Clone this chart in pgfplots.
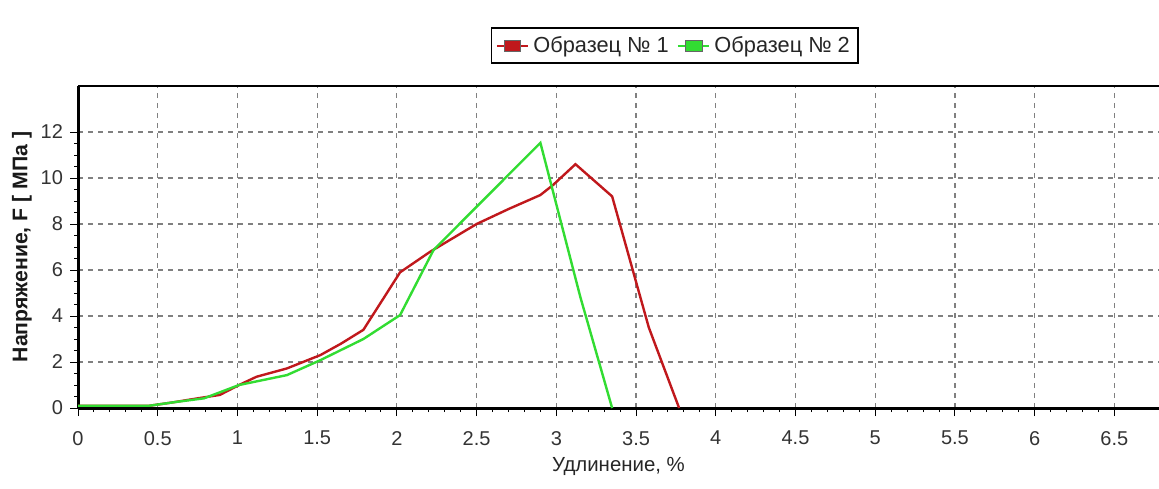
\documentclass[border=0pt]{standalone}
\usepackage{fontspec}
\setmainfont{Liberation Sans}
\usepackage{pgfplots}
\pgfplotsset{compat=1.18}
\definecolor{redser}{RGB}{192,24,28}
\definecolor{greenser}{RGB}{50,220,50}
\definecolor{gridgray}{RGB}{128,128,128}
\begin{document}
\begin{tikzpicture}
\useasboundingbox (0pt,0pt) rectangle (579.5pt,244pt);
\begin{axis}[
  at={(39pt,40pt)}, anchor=south west,
  scale only axis, width=540.5pt, height=161pt,
  xmin=0, xmax=6.78, ymin=0, ymax=14,
  axis x line*=bottom, axis y line*=left,
  axis line style={line width=1.5pt, -},
  xtick={0,0.5,...,6.5},
  xticklabels={0,0.5,1,1.5,2,2.5,3,3.5,4,4.5,5,5.5,6,6.5},
  ytick={0,2,...,12},
  minor x tick num=4, minor y tick num=3,
  tick align=outside,
  major tick length=4pt, minor tick length=2pt,
  tick style={black, line width=0.5pt},
  grid=major,
  major grid style={gridgray, line width=0.6pt, dash pattern=on 2.5pt off 2.5pt},
  /pgf/number format/assume math mode=true,
  ticklabel style={font=\fontsize{10pt}{12pt}\selectfont, text=black!80},
  xticklabel style={yshift=-4pt},
  xlabel={Удлинение, \%},
  ylabel={\textbf{Напряжение, F [ МПа ]}},
  xlabel style={font=\fontsize{10.2pt}{12pt}\selectfont, text=black!85,
    at={(axis description cs:0.5,0)}, anchor=center, yshift=-29pt},
  ylabel style={font=\fontsize{10.6pt}{12pt}\selectfont, text=black!90,
    at={(axis description cs:0,0.5)}, anchor=center, yshift=28pt},
  legend columns=2,
  legend style={at={(axis description cs:0.552,1)}, anchor=south, yshift=11pt,
    draw=black, line width=0.8pt, font=\fontsize{10.9pt}{12pt}\selectfont,
    inner sep=2pt, text=black!85,
    /tikz/every even column/.append style={column sep=2pt}},
  legend image code/.code={
    \draw[#1, line width=1.2pt] (0cm,0cm) -- (0.55cm,0cm);
    \draw[#1, fill, draw=black!60, line width=0.3pt] (0.13cm,-0.09cm) rectangle (0.42cm,0.09cm);
  },
  clip=false,
]
\addplot[redser, line width=1.2pt] coordinates {
(0,0.1) (0.45,0.1) (0.6,0.25) (0.75,0.42) (0.89,0.57) (1.01,1.0) (1.12,1.36)
(1.31,1.72) (1.52,2.3) (1.65,2.8) (1.79,3.4) (2.02,5.9) (2.21,6.8) (2.5,8.0)
(2.7,8.65) (2.9,9.26) (2.98,9.7) (3.12,10.6) (3.35,9.2) (3.58,3.5) (3.77,0)
};
\addlegendentry{Образец № 1}
\addplot[greenser, line width=1.2pt] coordinates {
(0,0.1) (0.45,0.1) (0.6,0.25) (0.79,0.42) (1.01,1.0) (1.31,1.43) (1.52,2.08)
(1.79,3.0) (2.02,4.04) (2.23,6.87) (2.5,8.75) (2.9,11.53) (3.15,4.84) (3.35,0)
};
\addlegendentry{Образец № 2}
\draw[black, line width=0.8pt] (rel axis cs:0,1) -- (rel axis cs:1,1);
\end{axis}
\end{tikzpicture}
\end{document}
